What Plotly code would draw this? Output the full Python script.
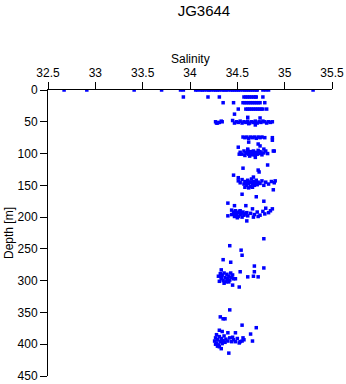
import plotly.graph_objects as go

# Surface and upper layer (0-60 m)
sal_upper = [32.67, 32.91, 33.41, 33.70, 33.90, 33.93,
             34.06, 34.08, 34.11, 34.13, 34.15, 34.18, 34.20, 34.22, 34.25, 34.27,
             34.29, 34.31, 34.34, 34.36, 34.38, 34.40, 34.43, 34.45, 34.47, 34.49,
             34.51, 34.53, 34.56, 34.58, 34.60, 34.62, 34.64, 34.66, 34.68, 34.70,
             34.71, 34.77, 34.80, 34.83, 35.30,
             33.93, 34.19, 34.31, 34.57, 34.59, 34.61, 34.63, 34.65, 34.67, 34.69, 34.70, 34.77,
             34.35, 34.46, 34.56, 34.58, 34.60, 34.62, 34.64, 34.66, 34.68, 34.70, 34.72, 34.74, 34.79,
             34.51, 34.59, 34.61, 34.63, 34.65, 34.67, 34.69, 34.71, 34.73, 34.75, 34.77, 34.81,
             34.47, 34.61, 34.74,
             34.27, 34.29, 34.31, 34.34, 34.45, 34.47, 34.49, 34.51, 34.53, 34.55, 34.57,
             34.59, 34.61, 34.63, 34.65, 34.67, 34.69, 34.71, 34.73, 34.75, 34.77, 34.79,
             34.81, 34.83, 34.85, 34.87, 34.69, 34.28, 34.33, 34.62, 34.68]
dep_upper = [0, 0, 0, 0, 0, 0,
             0, 0, 0, 0, 0, 0, 0, 0, 0, 0,
             0, 0, 0, 0, 0, 0, 0, 0, 0, 0,
             0, 0, 0, 0, 0, 0, 0, 0, 0, 0,
             0, 0, 0, 0, 0,
             11, 11, 11, 11, 11, 11, 11, 11, 11, 11, 11, 11,
             20, 20, 20, 20, 20, 20, 20, 20, 20, 20, 20, 20, 20,
             30, 30, 30, 30, 30, 30, 30, 30, 30, 30, 30, 30,
             38, 43, 44,
             50, 52, 51, 50, 48, 52, 50, 51, 49, 52, 50,
             51, 49, 52, 50, 51, 49, 52, 50, 51, 49, 50,
             52, 50, 51, 50, 55, 52, 49, 53, 51]

# 75-105 m
sal_100 = [34.56, 34.58, 34.60, 34.62, 34.64, 34.66, 34.68, 34.70, 34.72, 34.74, 34.76, 34.79,
           34.87, 34.87, 34.62, 34.72, 34.74, 34.51, 34.61, 34.78,
           34.53, 34.55, 34.57, 34.58, 34.60, 34.61, 34.62, 34.63, 34.64, 34.65, 34.66, 34.67,
           34.68, 34.69, 34.70, 34.71, 34.72, 34.73, 34.74, 34.76, 34.78, 34.80, 34.82, 34.88,
           34.69, 34.59, 34.66, 34.62, 34.75, 34.52, 34.89]
dep_100 = [74, 75, 74, 76, 74, 75, 74, 76, 74, 75, 74, 75,
           75, 79, 82, 85, 88, 90, 93, 93,
           98, 101, 96, 103, 99, 95, 101, 104, 97, 100, 102, 96,
           99, 103, 98, 101, 95, 100, 97, 102, 99, 96, 100, 96,
           106, 99, 99, 98, 99, 101, 96]

# 115-170 m
sal_150 = [34.82, 34.56, 34.72, 34.73, 34.46, 34.67, 34.51,
           34.51, 34.53, 34.55, 34.57, 34.58, 34.60, 34.61, 34.62, 34.63, 34.64, 34.65,
           34.66, 34.67, 34.68, 34.69, 34.70, 34.71, 34.72, 34.74, 34.76, 34.78, 34.80,
           34.83, 34.86, 34.89, 34.90, 34.62, 34.66, 34.58, 34.64, 34.60,
           34.88, 34.55, 34.70]
dep_150 = [118, 123, 126, 129, 134, 137, 138,
           143, 146, 141, 148, 144, 150, 142, 147, 145, 152, 140,
           148, 144, 150, 146, 142, 149, 145, 147, 143, 150, 145,
           148, 144, 146, 143, 154, 153, 153, 145, 146,
           157, 164, 168]

# 170-235 m
sal_200 = [34.78, 34.40, 34.47, 34.59, 34.80, 34.66, 34.87, 34.44,
           34.46, 34.47, 34.48, 34.49, 34.50, 34.51, 34.52, 34.53, 34.54, 34.55,
           34.56, 34.57, 34.58, 34.60, 34.61, 34.44, 34.47, 34.50, 34.53, 34.49,
           34.64, 34.68, 34.71, 34.74, 34.77, 34.79, 34.83, 34.85, 34.72, 34.67,
           34.40, 34.60, 34.78]
dep_200 = [175, 178, 182, 182, 186, 187, 187, 189,
           192, 195, 190, 197, 193, 199, 191, 196, 194, 200,
           192, 197, 195, 193, 198, 196, 199, 201, 190, 193,
           194, 196, 192, 197, 191, 195, 193, 190, 199, 200,
           198, 206, 234]

# 245-310 m
sal_300 = [34.42, 34.54, 34.55, 34.35, 34.43, 34.68, 34.78, 34.33, 34.53, 34.68,
           34.30, 34.32, 34.33, 34.34, 34.35, 34.36, 34.37, 34.38, 34.39, 34.40,
           34.41, 34.42, 34.43, 34.44, 34.45, 34.46, 34.31, 34.36, 34.39, 34.33,
           34.61, 34.72, 34.67, 34.48, 34.41, 34.45, 34.52]
dep_300 = [245, 252, 260, 267, 271, 277, 280, 283, 286, 286,
           293, 289, 297, 291, 300, 288, 295, 302, 290, 297,
           293, 299, 288, 295, 291, 297, 301, 304, 298, 294,
           294, 294, 293, 297, 302, 307, 310]

# 345-415 m
sal_400 = [34.42, 34.32, 34.35, 34.37, 34.55, 34.70, 34.31, 34.40, 34.48, 34.64,
           34.28, 34.45, 34.56, 34.66, 34.48, 34.53,
           34.26, 34.27, 34.28, 34.29, 34.30, 34.31, 34.32, 34.33, 34.34, 34.35,
           34.36, 34.37, 34.38, 34.40, 34.42, 34.44, 34.46, 34.50, 34.52, 34.55,
           34.57, 34.29, 34.31, 34.27, 34.34, 34.33, 34.41]
dep_400 = [346, 357, 360, 360, 370, 374, 378, 382, 382, 384,
           385, 389, 390, 395, 396, 396,
           395, 390, 398, 393, 401, 388, 396, 391, 399, 394,
           387, 397, 392, 395, 390, 396, 393, 391, 398, 395,
           393, 403, 404, 400, 380, 407, 414]

salinity = sal_upper + sal_100 + sal_150 + sal_200 + sal_300 + sal_400
depth = dep_upper + dep_100 + dep_150 + dep_200 + dep_300 + dep_400

x_ticks = [32.5, 33, 33.5, 34, 34.5, 35, 35.5]
y_ticks = [0, 50, 100, 150, 200, 250, 300, 350, 400, 450]

fig = go.Figure(go.Scatter(
    x=salinity, y=depth, mode="markers",
    marker=dict(symbol="square", size=3.5, color="#0000FF", line=dict(width=0)),
))

font = "Liberation Sans, Arial, sans-serif"
W, H = 346, 384
L, R, T, B = 48, 14, 90, 8
pw, ph = W - L - R, H - T - B

fig.update_layout(
    width=W, height=H,
    margin=dict(l=L, r=R, t=T, b=B, autoexpand=False),
    paper_bgcolor="white", plot_bgcolor="white",
    showlegend=False,
    font=dict(family=font, size=12, color="black"),
    title=dict(text="JG3644", x=190 / W, xanchor="center", xref="paper",
               y=1 - 11 / H, yanchor="middle", yref="container",
               font=dict(size=15, family=font, color="black")),
    xaxis=dict(
        side="top", range=[32.5, 35.5], tickvals=x_ticks,
        ticktext=[f"{v:g}" for v in x_ticks],
        showgrid=False, zeroline=False, showline=True, linecolor="black", linewidth=1,
        ticks="outside", ticklen=7, tickcolor="black", tickwidth=1,
        automargin=False, tickfont=dict(size=12),
    ),
    yaxis=dict(
        range=[450, 0], tickvals=y_ticks,
        showgrid=False, zeroline=False, showline=True, linecolor="black", linewidth=1,
        ticks="outside", ticklen=7, tickcolor="black", tickwidth=1,
        automargin=False, tickfont=dict(size=12),
    ),
    annotations=[
        dict(text="Salinity", xref="paper", yref="paper",
             x=0.5, y=(H - B - 59) / ph, xanchor="center", yanchor="middle",
             borderpad=0, showarrow=False,
             font=dict(size=12, family=font, color="black")),
        dict(text="Depth [m]", xref="paper", yref="paper", textangle=-90,
             x=(9 - L) / pw, y=0.5, xanchor="center", yanchor="middle",
             borderpad=0, showarrow=False,
             font=dict(size=12, family=font, color="black")),
    ],
)

fig.write_html("out.html")
